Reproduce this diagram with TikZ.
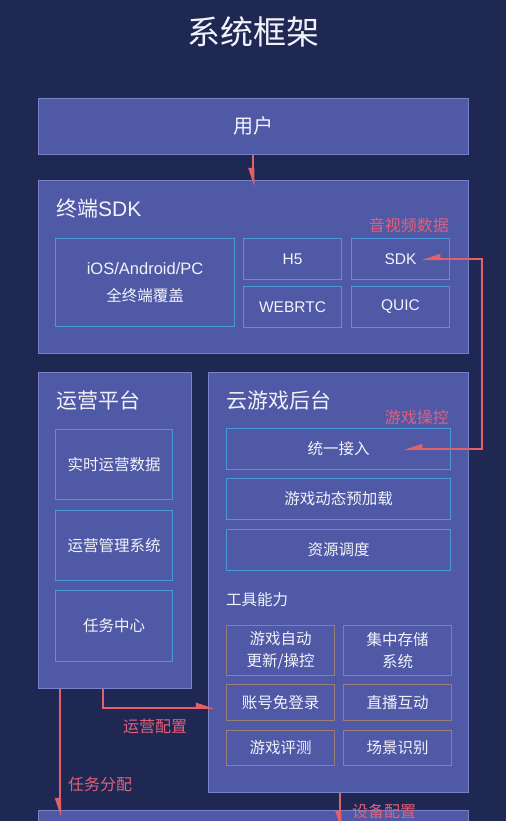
\documentclass[tikz,border=0pt]{standalone}
\usepackage{fontspec}
\setmainfont{Noto Sans CJK SC}
\newfontfamily\lat{Liberation Sans}
\usetikzlibrary{arrows.meta,calc}
\definecolor{bg}{HTML}{1E2852}
\definecolor{panel}{HTML}{4F59A5}
\definecolor{panelline}{HTML}{7882C8}
\definecolor{inner}{HTML}{4A98DC}
\definecolor{toolc}{HTML}{9A7C78}
\definecolor{redline}{HTML}{E2606A}
\definecolor{redtext}{HTML}{E2607A}
\definecolor{txt}{HTML}{F2F3FA}
\newcommand{\mybox}[7]{\node[#2, anchor=north west, minimum width=#5pt, minimum height=#6pt, inner sep=0pt] (#1) at (#3,#4) {#7};}
\tikzset{
  panelbox/.style={fill=panel, draw=panelline, line width=0.8pt},
  innerbox/.style={draw=inner, line width=1.1pt, text=txt, align=center, font=\fontsize{15.5}{22}\selectfont},
  toolbox/.style={draw=toolc, line width=1.1pt, text=txt, align=center, font=\fontsize{15.5}{22}\selectfont},
  headlbl/.style={text=txt, anchor=west, inner sep=0pt, font=\fontsize{21}{24}\selectfont},
  redlbl/.style={text=redtext, inner sep=0pt, font=\fontsize{16}{18}\selectfont},
  arrL/.style={draw=redline, line width=2pt, -{Triangle[harpoon,swap,length=16pt,width=10pt]}},
  arrR/.style={draw=redline, line width=2pt, -{Triangle[harpoon,length=16pt,width=10pt]}},
  arrBoth/.style={draw=redline, line width=2pt, {Triangle[harpoon,swap,length=16pt,width=10pt]}-{Triangle[harpoon,swap,length=16pt,width=10pt]}}
}
\begin{document}
\begin{tikzpicture}[x=1pt,y=-1pt]
\useasboundingbox (0,0) rectangle (506,821);
\fill[bg] (0,0) rectangle (506,821);
\begin{scope}
\clip (0,0) rectangle (506,821);
\node[text=txt, font=\fontsize{33}{36}\selectfont] (title) at (253,32) {系统框架};
% panels
\mybox{user}{panelbox, text=txt, font=\fontsize{20}{24}\selectfont}{38}{98}{430}{56}{用户}
\mybox{sdkp}{panelbox}{38}{180}{430}{173}{}
\mybox{ops}{panelbox}{38}{372}{153}{316}{}
\mybox{cloud}{panelbox}{208}{372}{260}{420}{}
\mybox{bottom}{panelbox}{38}{810}{430}{40}{}
% panel labels
\node[headlbl] (sdklbl) at (56,209) {终端{\lat SDK}};
\node[headlbl] (opslbl) at (56,401) {运营平台};
\node[headlbl] (cloudlbl) at (226,401) {云游戏后台};
\node[text=txt, anchor=west, inner sep=0pt, font=\fontsize{15.5}{18}\selectfont] (toollbl) at (226,600) {工具能力};
% SDK inner boxes
\mybox{ios}{innerbox, font=\fontsize{15.5}{27}\selectfont}{55}{238}{179}{88}{{\lat\fontsize{16.5}{27}\selectfont iOS/Android/PC}\\全终端覆盖}
\mybox{h5}{innerbox}{243}{238}{98}{41}{\lat H5}
\mybox{webrtc}{innerbox}{243}{286}{98}{41}{\lat WEBRTC}
\mybox{sdk}{innerbox}{351}{238}{98}{41}{\lat SDK}
\mybox{quic}{innerbox}{351}{286}{98}{41}{\lat QUIC}
% ops inner boxes
\mybox{rt}{innerbox}{55}{429}{117}{70}{实时运营数据}
\mybox{mgmt}{innerbox}{55}{510}{117}{70}{运营管理系统}
\mybox{task}{innerbox}{55}{590}{117}{71}{任务中心}
% cloud inner boxes
\mybox{acc}{innerbox}{226}{428}{224}{41}{统一接入}
\mybox{pre}{innerbox}{226}{478}{224}{41}{游戏动态预加载}
\mybox{res}{innerbox}{226}{529}{224}{41}{资源调度}
% tool boxes
\mybox{t1}{toolbox}{226}{625}{108}{50}{游戏自动\\更新/操控}
\mybox{t2}{toolbox}{343}{625}{108}{50}{集中存储\\系统}
\mybox{t3}{toolbox}{226}{684}{108}{36}{账号免登录}
\mybox{t4}{toolbox}{343}{684}{108}{36}{直播互动}
\mybox{t5}{toolbox}{226}{730}{108}{35}{游戏评测}
\mybox{t6}{toolbox}{343}{730}{108}{35}{场景识别}
% red labels
\node[redlbl, anchor=east] (avlbl) at (449,225) {音视频数据};
\node[redlbl, anchor=east] (ctrllbl) at (449,417) {游戏操控};
\node[redlbl] (cfglbl) at (155,726) {运营配置};
\node[redlbl] (tasklbl) at (100,784) {任务分配};
\node[redlbl] (devlbl) at (384,811) {设备配置};
% connectors
\draw[arrL] (user.south) -- ($(sdkp.north)+(0,7)$);
\coordinate (sdkin) at ($(sdk.east)+(-29,0)$);
\coordinate (accin) at ($(acc.east)+(-48,0)$);
\draw[arrBoth] (sdkin) -- ++(61,0) |- (accin);
\coordinate (o1) at ($(ops.south west)+(65,0)$);
\coordinate (o2) at ($(cloud.south west)+(7,-85)$);
\draw[arrR] (o1) |- (o2);
\coordinate (t0) at ($(ops.south west)+(22,0)$);
\draw[arrL] (t0) -- ($(bottom.north west)+(22,7)$);
\draw[arrL] ($(cloud.south)+(2,0)$) -- ($(bottom.north)+(87,20)$);
\end{scope}
\end{tikzpicture}
\end{document}
